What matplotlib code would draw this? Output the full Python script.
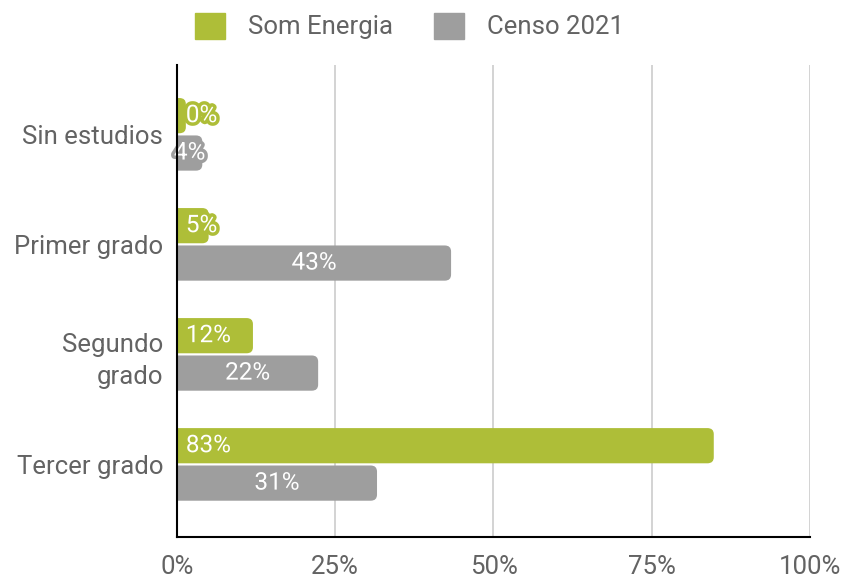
import matplotlib.pyplot as plt
import matplotlib.patheffects as pe
from matplotlib.patches import FancyBboxPatch, Patch
import numpy as np

plt.rcParams['font.family'] = ['Roboto', 'DejaVu Sans']

categorias = ['Sin estudios', 'Primer grado', 'Segundo\ngrado', 'Tercer grado']
som_valores = [1.4, 5.0, 12.0, 84.8]
som_etiquetas = ['0%', '5%', '12%', '83%']
censo_valores = [4.0, 43.3, 22.3, 31.6]
censo_etiquetas = ['4%', '43%', '22%', '31%']

verde = '#aebe38'
gris = '#9e9e9e'
texto = '#636363'

fig = plt.figure(figsize=(8.44, 5.78), dpi=100)
ax = fig.add_axes([0.2097, 0.0709, 0.75, 0.8166])

y = np.arange(len(categorias))
h = 0.32
b1 = ax.barh(y - h / 2 - 0.01, som_valores, height=h, color=verde)
b2 = ax.barh(y + h / 2 + 0.01, censo_valores, height=h, color=gris)

# esquinas redondeadas
for barras, col in ((b1, verde), (b2, gris)):
    for r in barras:
        x0, y0, w, hh = r.get_x(), r.get_y(), r.get_width(), r.get_height()
        r.set_visible(False)
        p = FancyBboxPatch((x0 - 2, y0), w + 2, hh,
                           boxstyle='round,pad=0,rounding_size=1.0',
                           mutation_aspect=0.055, color=col, lw=0, zorder=2,
                           clip_on=True)
        ax.add_patch(p)

for i, r in enumerate(b1):
    ax.text(1.4, r.get_y() + r.get_height() / 2, som_etiquetas[i], ha='left', va='center',
            color='white', fontsize=17.5, zorder=4,
            path_effects=[pe.withStroke(linewidth=5, foreground=verde)])
for i, r in enumerate(b2):
    ax.text(r.get_width() / 2, r.get_y() + r.get_height() / 2, censo_etiquetas[i],
            ha='center', va='center', color='white', fontsize=17.5, zorder=4,
            path_effects=[pe.withStroke(linewidth=5, foreground=gris)])

ax.set_xlim(0, 100)
ax.set_ylim(3.66, -0.63)
ax.set_xticks([0, 25, 50, 75, 100])
ax.set_xticklabels(['0%', '25%', '50%', '75%', '100%'])
ax.set_yticks(y)
ax.set_yticklabels(categorias, linespacing=1.45)
ax.tick_params(axis='both', length=0, labelsize=18.5, labelcolor=texto)
ax.tick_params(axis='x', pad=13)
ax.tick_params(axis='y', pad=10)
ax.grid(axis='x', color='#cccccc', lw=1.2, zorder=0)
ax.set_axisbelow(True)
for s in ('top', 'right'):
    ax.spines[s].set_visible(False)
ax.spines['left'].set_color('black')
ax.spines['bottom'].set_color('black')
ax.spines['left'].set_linewidth(1.5)
ax.spines['bottom'].set_linewidth(1.5)
ax.spines['left'].set_zorder(5)

handles = [Patch(color=verde, label='Som Energia'), Patch(color=gris, label='Censo 2021')]
fig.legend(handles=handles, loc='center', bbox_to_anchor=(0.485, 0.955), ncol=2,
           frameon=False, fontsize=18.5, labelcolor=texto, handlelength=1.17,
           handleheight=1.17, handletextpad=0.9, columnspacing=1.6)

fig.savefig('out.png')
